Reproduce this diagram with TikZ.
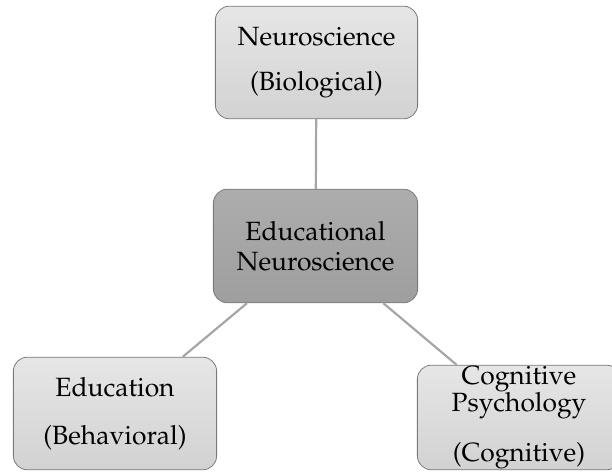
\documentclass[tikz,border=0pt]{standalone}
\usepackage[T1]{fontenc}
\usepackage{mathpazo}
\usepackage{tikz}

\definecolor{boxline}{HTML}{7A7A7A}
\definecolor{linkgray}{HTML}{A6A6A6}
\definecolor{lighttop}{HTML}{E6E6E6}
\definecolor{lightbot}{HTML}{D2D2D2}
\definecolor{darktop}{HTML}{ADADAD}
\definecolor{darkbot}{HTML}{9E9E9E}

\tikzset{
  fieldbox/.style={draw=boxline, line width=0.8pt, rounded corners=14pt,
    top color=lighttop, bottom color=lightbot, align=center,
    font=\fontsize{26.5}{30}\selectfont, inner sep=0pt},
  centerbox/.style={fieldbox, top color=darktop, bottom color=darkbot},
  link/.style={draw=linkgray, line width=2.2pt}
}

\begin{document}
\begin{tikzpicture}[x=1bp,y=-1bp]

 \useasboundingbox (0,0) rectangle (612,473);

 \node[fieldbox, minimum width=203, minimum height=113] (neuro) at (316.5,62.5)
   {Neuroscience\\[15pt](Biological)};

 \node[centerbox, minimum width=205, minimum height=114] (edneuro) at (315.5,246)
   {Educational\\Neuroscience};

 \node[fieldbox, minimum width=204, minimum height=113] (educ) at (115,413.5)
   {Education\\[18pt](Behavioral)};

 \node[fieldbox, minimum width=204, minimum height=105] (cogpsy) at (519,417.5)
   {Cognitive\\[-2pt]Psychology\\[20pt](Cognitive)};

 % connectors
 \draw[link] (neuro) -- (edneuro);
 \draw[link] (edneuro) -- (educ);
 \draw[link] (edneuro) -- (cogpsy);

\end{tikzpicture}
\end{document}
